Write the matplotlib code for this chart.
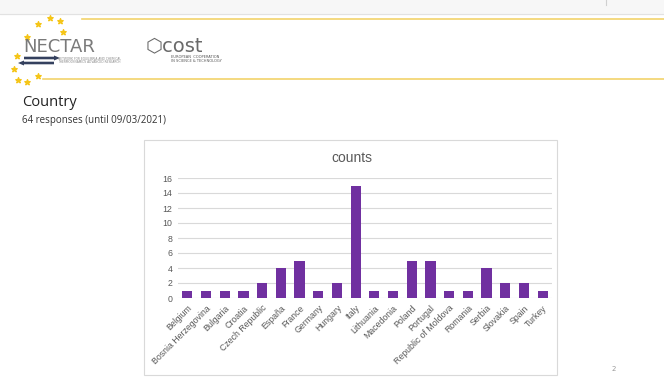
import matplotlib
matplotlib.use("Agg")
import matplotlib.pyplot as plt
from matplotlib.patches import Rectangle, FancyArrow

countries = ["Belgium", "Bosnia Herzegovina", "Bulgaria", "Croatia", "Czech Republic",
             "España", "France", "Germany", "Hungary", "Italy", "Lithuania", "Macedonia",
             "Poland", "Portugal", "Republic of Moldova", "Romania", "Serbia", "Slovakia",
             "Spain", "Turkey"]
counts = [1, 1, 1, 1, 2, 4, 5, 1, 2, 15, 1, 1, 5, 5, 1, 1, 4, 2, 2, 1]
y_ticks = [0, 2, 4, 6, 8, 10, 12, 14, 16]

W, H = 664, 383
fig = plt.figure(figsize=(W / 100, H / 100), dpi=100)
fig.patch.set_facecolor("white")

# overlay axes in pixel coordinates (y down) for slide decoration
deco = fig.add_axes([0, 0, 1, 1])
deco.set_xlim(0, W)
deco.set_ylim(H, 0)
deco.axis("off")

# top grey band of the viewer
deco.add_patch(Rectangle((0, 0), W, 14, color="#f7f7f7", zorder=0))
deco.plot([0, W], [14, 14], color="#e2e2e2", lw=0.8)
deco.plot([606, 606], [0, 5], color="#d0d0d0", lw=0.8)

# yellow header lines
deco.plot([82, W], [19, 19], color="#f2d36b", lw=1.2)
deco.plot([43, W], [79, 79], color="#f2d36b", lw=1.2)

# stars of the logo
stars_x = [38, 50, 60, 63, 27, 17, 14, 18, 27, 38]
stars_y = [24, 18, 21, 32, 37, 56, 69, 80, 82, 76]
deco.scatter(stars_x, stars_y, marker="*", s=16, color="#f5c518", zorder=3)

# NECTAR / COST logos as text
deco.text(23, 47, "NECTAR", fontsize=13, color="#7a7a7a", family="DejaVu Sans",
          va="center", ha="left")
deco.add_patch(FancyArrow(24, 58, 30, 0, width=2.6, head_width=5, head_length=6,
                          color="#34405e", lw=0))
deco.add_patch(FancyArrow(54, 63, -30, 0, width=2.6, head_width=5, head_length=6,
                          color="#34405e", lw=0))
deco.text(58, 58, "NETWORK FOR EQUILIBRIA AND CHEMICAL", fontsize=2.2, color="#888888", va="center")
deco.text(58, 62, "THERMODYNAMICS ADVANCED RESEARCH", fontsize=2.2, color="#888888", va="center")
deco.text(146, 46, "\u2b21cost", fontsize=14, color="#6a6a6a", va="center", ha="left",
          family="DejaVu Sans")
deco.text(171, 57, "EUROPEAN  COOPERATION", fontsize=2.6, color="#555555", va="center")
deco.text(171, 61, "IN SCIENCE & TECHNOLOGY", fontsize=2.6, color="#555555", va="center")

# slide titles
deco.text(22, 103, "Country", fontsize=10.5, color="#222222", va="center", family="Open Sans")
deco.text(22, 120, "64 responses (until 09/03/2021)", fontsize=7, color="#333333",
          va="center", family="Open Sans")
deco.text(614, 369, "2", fontsize=5, color="#999999", va="center", ha="center")

# chart frame
deco.add_patch(Rectangle((144, 140), 413, 235, fill=False, ec="#d9d9d9", lw=0.8))
deco.text(352, 158, "counts", fontsize=10, color="#595959", ha="center", va="center",
          family="Liberation Sans")

# bar chart
ax = fig.add_axes([178 / W, 85 / H, (552 - 178) / W, 120 / H])
ax.set_facecolor("none")
x = range(len(countries))
ax.bar(x, counts, width=0.55, color="#7030a0", zorder=3)
ax.set_xlim(-0.5, len(countries) - 0.5)
ax.set_ylim(0, 16)
ax.set_yticks(y_ticks)
ax.yaxis.grid(True, color="#d9d9d9", lw=0.8, zorder=0)
ax.set_xticks(list(x))
ax.set_xticklabels(countries, rotation=45, ha="right", rotation_mode="anchor")
for lab in ax.get_xticklabels() + ax.get_yticklabels():
    lab.set_fontsize(6.3)
    lab.set_color("#595959")
    lab.set_family("Liberation Sans")
ax.tick_params(length=0, pad=4)
for s in ax.spines.values():
    s.set_visible(False)

fig.savefig("out.png", dpi=100)
